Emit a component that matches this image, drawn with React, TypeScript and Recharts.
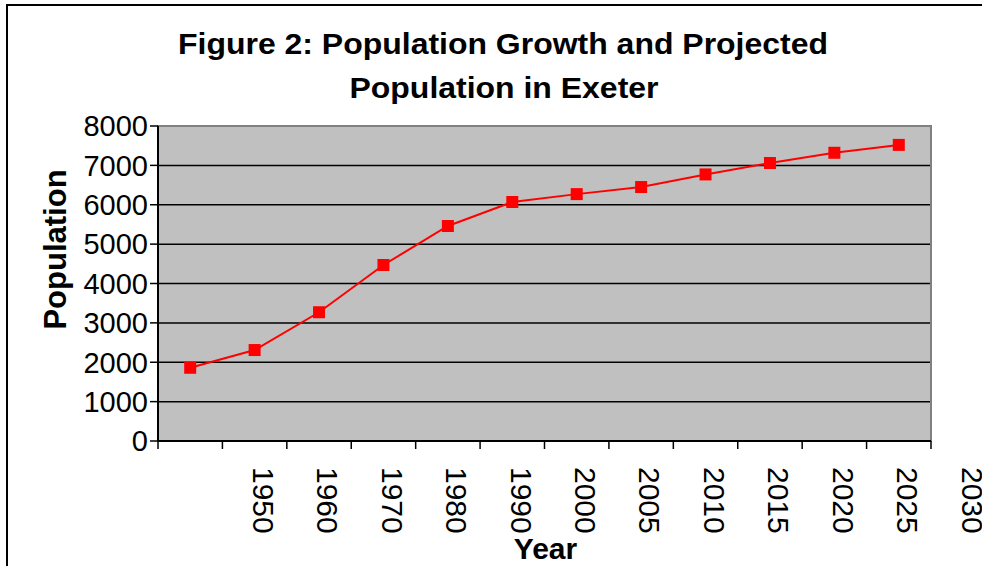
import { CartesianGrid, ComposedChart, Label, Line, ReferenceArea, XAxis, YAxis } from "recharts"

// Exeter population
const yearLabels = ["1950", "1960", "1970", "1980", "1990", "2000", "2005", "2010", "2015", "2020", "2025", "2030"]
const population = [1860, 2310, 3270, 4470, 5460, 6070, 6270, 6450, 6770, 7060, 7320, 7520]
const yTicks = [0, 1000, 2000, 3000, 4000, 5000, 6000, 7000, 8000]

const FONT = "'Liberation Sans', Arial, Helvetica, sans-serif"

// points sit in the middle of each category slot, tick marks fall between slots
const data = population.map((p, i) => ({ slot: i + 0.5, population: p }))
const slotTicks = Array.from({ length: population.length + 1 }, (_, k) => k)

function XTick(props: any) {
  const { x, y, payload } = props
  const label = yearLabels[payload.value - 1]
  if (!label) return null
  const tx = x + 41
  const ty = y + 16
  return (
    <text
      x={tx}
      y={ty}
      transform={`rotate(90 ${tx} ${ty})`}
      textAnchor="start"
      dominantBaseline="central"
      fontFamily={FONT}
      fontSize={30}
      fill="#000"
    >
      {label}
    </text>
  )
}

function SquareDot(props: any) {
  const { cx, cy } = props
  if (cx == null || cy == null) return null
  return <rect x={cx - 6} y={cy - 6} width={12} height={12} fill="#ff0000" />
}

export default function App() {
  return (
    <div
      style={{
        position: "fixed",
        left: 0,
        top: 0,
        width: 982,
        height: 566,
        overflow: "hidden",
        background: "#fff",
      }}
    >
      {/* chart frame, only left and top edges show in the crop */}
      <div
        style={{
          position: "absolute",
          left: 6,
          top: 4,
          width: 1100,
          height: 700,
          borderLeft: "2px solid #000",
          borderTop: "2px solid #000",
        }}
      />
      <svg
        width={982}
        height={120}
        style={{ position: "absolute", left: 0, top: 0, pointerEvents: "none" }}
      >
        <text
          x={503}
          y={54}
          textAnchor="middle"
          fontFamily={FONT}
          fontWeight="bold"
          fontSize={30}
          textLength={650}
          lengthAdjust="spacingAndGlyphs"
        >
          Figure 2: Population Growth and Projected
        </text>
        <text
          x={504}
          y={98}
          textAnchor="middle"
          fontFamily={FONT}
          fontWeight="bold"
          fontSize={30}
          textLength={309}
          lengthAdjust="spacingAndGlyphs"
        >
          Population in Exeter
        </text>
      </svg>
      <div style={{ position: "absolute", left: 0, top: 0 }}>
        <ComposedChart
          width={982}
          height={566}
          data={data}
          margin={{ top: 126, right: 51, bottom: 0, left: 0 }}
        >
          <CartesianGrid
            vertical={false}
            fill="#c0c0c0"
            stroke="#000"
            strokeWidth={1.5}
            fillOpacity={1}
          />
          <ReferenceArea
            x1={0}
            x2={slotTicks.length - 1}
            y1={0}
            y2={8000}
            fill="none"
            stroke="#808080"
            strokeWidth={2}
            strokeOpacity={1}
            fillOpacity={0}
          />
          <XAxis
            dataKey="slot"
            type="number"
            domain={[0, slotTicks.length - 1]}
            ticks={slotTicks}
            interval={0}
            height={125}
            tickSize={8}
            tick={<XTick />}
            axisLine={{ stroke: "#000", strokeWidth: 2 }}
            tickLine={{ stroke: "#000", strokeWidth: 1.5 }}
          >
            <Label
              content={(p: any) => {
                const vb = p.viewBox
                return (
                  <text
                    x={vb.x + vb.width / 2 + 1}
                    y={vb.y + 118}
                    textAnchor="middle"
                    fontFamily={FONT}
                    fontWeight="bold"
                    fontSize={30}
                    fill="#000"
                  >
                    Year
                  </text>
                )
              }}
            />
          </XAxis>
          <YAxis
            type="number"
            domain={[0, 8000]}
            ticks={yTicks}
            interval={0}
            width={158}
            tickSize={8}
            tick={{ fill: "#000", fontSize: 29, fontFamily: FONT }}
            axisLine={{ stroke: "#000", strokeWidth: 2 }}
            tickLine={{ stroke: "#000", strokeWidth: 1.5 }}
          >
            <Label
              content={(p: any) => {
                const vb = p.viewBox
                const cx = vb.x + 55
                const cy = vb.y + vb.height / 2 - 34
                return (
                  <text
                    x={cx}
                    y={cy}
                    transform={`rotate(-90 ${cx} ${cy})`}
                    textAnchor="middle"
                    dominantBaseline="central"
                    fontFamily={FONT}
                    fontWeight="bold"
                    fontSize={31}
                    fill="#000"
                  >
                    Population
                  </text>
                )
              }}
            />
          </YAxis>
          <Line
            type="linear"
            dataKey="population"
            stroke="#ff0000"
            strokeWidth={2}
            dot={<SquareDot />}
            activeDot={false}
            isAnimationActive={false}
          />
        </ComposedChart>
      </div>
    </div>
  )
}
